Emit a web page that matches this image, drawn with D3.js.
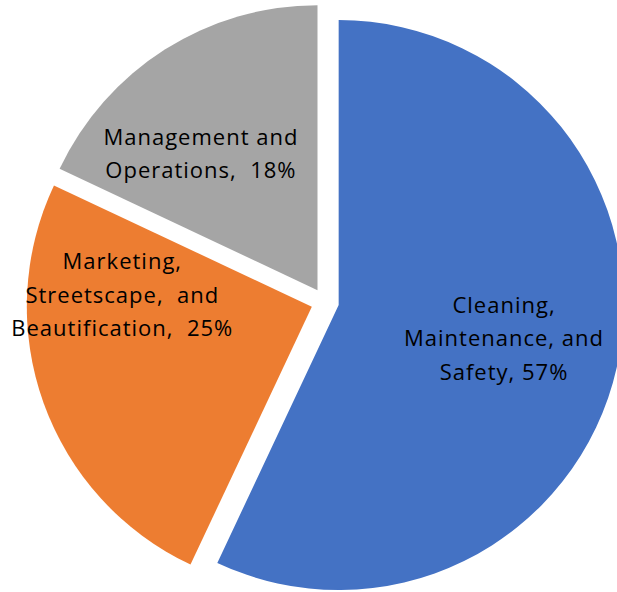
<!DOCTYPE html>
<html>
<head>
<meta charset="utf-8">
<script src="https://cdn.jsdelivr.net/npm/d3@7"></script>
<style>
  body { margin: 0; background: #fff; }
  svg { display: block; }
</style>
</head>
<body>
<svg id="pieChart"></svg>
<script>
// chart values
const categories = ["Cleaning, Maintenance, and Safety", "Marketing, Streetscape, and Beautification", "Management and Operations"];
const shares = [57, 25, 18];
const labelLines = [
    ["Cleaning,", "Maintenance, and", "Safety, 57%"],
    ["Marketing,", "Streetscape,  and", "Beautification,  25%"],
    ["Management and", "Operations,  18%"]
];

const width = 617, height = 592;
const cx = 325, cy = 302, radius = 285, explode = 14;
const colors = ["#4472c4", "#ed7d31", "#a5a5a5"];
// small nudges so labels sit where the original placed them
const nudges = [[4, -3], [-34, -68], [-28, 3]];

const svg = d3.select("#pieChart")
    .attr("width", width)
    .attr("height", height);

const g = svg.append("g")
    .attr("transform", `translate(${cx}, ${cy})`);

const pie = d3.pie().sort(null).value(d => d);
const arc = d3.arc().innerRadius(0).outerRadius(radius);
const labelArc = d3.arc().innerRadius(radius * 0.58).outerRadius(radius * 0.58);

const arcs = pie(shares);

function offset(d) {
    const mid = (d.startAngle + d.endAngle) / 2;
    return [Math.sin(mid) * explode, -Math.cos(mid) * explode];
}

const slices = g.selectAll(".slice")
    .data(arcs)
    .enter()
    .append("g")
    .attr("class", "slice")
    .attr("transform", d => `translate(${offset(d)})`);

slices.append("path")
    .attr("d", arc)
    .attr("fill", (d, i) => colors[i]);

const lineH = 33.5;
slices.append("text")
    .attr("transform", (d, i) => {
        const c = labelArc.centroid(d);
        return `translate(${c[0] + nudges[i][0]}, ${c[1] + nudges[i][1]})`;
    })
    .attr("text-anchor", "middle")
    .style("font-family", "'Open Sans', sans-serif")
    .style("font-size", "22px")
    .style("letter-spacing", "1px")
    .style("fill", "#000")
    .each(function(d, i) {
        const lines = labelLines[i];
        const t = d3.select(this);
        lines.forEach((line, j) => {
            t.append("tspan")
                .attr("x", 0)
                .attr("y", (j - (lines.length - 1) / 2) * lineH + 8)
                .style("white-space", "pre")
                .text(line);
        });
    });
</script>
</body>
</html>
